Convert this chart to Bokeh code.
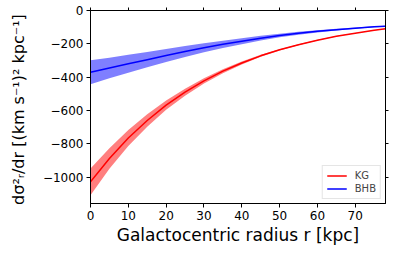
from bokeh.plotting import figure
from bokeh.models import Range1d, LinearAxis, FixedTicker, CustomJSTickFormatter, Legend, LegendItem
from bokeh.embed import file_html
from bokeh.resources import INLINE

r = [0, 5, 10, 15, 20, 25, 30, 35, 40, 45, 50, 55, 60, 65, 70, 75, 78]
kg_mean = [-1028, -888, -765, -660, -568, -490, -422, -364, -315, -272, -236, -205, -178, -155, -136, -119, -110]
kg_err = [80, 62, 48, 37, 28, 21, 16, 12, 9, 6, 4, 3, 2, 1.5, 1, 1, 1]
bhb_mean = [-370, -345, -320, -295, -270, -246, -224, -203, -184, -166, -150, -137, -125, -115, -106, -98, -94]
bhb_err = [72, 62, 54, 46, 39, 33, 27, 22, 18, 14, 11, 9, 7, 5, 4, 3, 3]
x_ticks = [0, 10, 20, 30, 40, 50, 60, 70]
y_ticks = [0, -200, -400, -600, -800, -1000]

kg_lo = [m - e for m, e in zip(kg_mean, kg_err)]
kg_hi = [m + e for m, e in zip(kg_mean, kg_err)]
bhb_lo = [m - e for m, e in zip(bhb_mean, bhb_err)]
bhb_hi = [m + e for m, e in zip(bhb_mean, bhb_err)]

FONT = "DejaVu Sans"

p = figure(width=390, height=249, output_backend="svg", toolbar_location=None,
           x_range=Range1d(0, 78), y_range=Range1d(-1158, 0),
           min_border_left=90, min_border_right=5, min_border_top=10, min_border_bottom=46)
p.xgrid.visible = False
p.ygrid.visible = False
p.outline_line_color = "black"
p.outline_line_width = 1

p.varea(x=r, y1=kg_lo, y2=kg_hi, fill_color="#ff0000", fill_alpha=0.5)
p.varea(x=r, y1=bhb_lo, y2=bhb_hi, fill_color="#0000ff", fill_alpha=0.5)
l1 = p.line(r, kg_mean, line_color="#ff0000", line_width=1.5)
l2 = p.line(r, bhb_mean, line_color="#0000ff", line_width=1.5)

fmt = CustomJSTickFormatter(code="return tick < 0 ? '\u2212' + Math.abs(tick) : String(tick);")
blank = CustomJSTickFormatter(code="return '';")

for ax in (p.xaxis[0], p.yaxis[0]):
    ax.major_label_text_font = FONT
    ax.major_label_text_font_size = "12px"
    ax.major_label_text_color = "black"
    ax.axis_label_text_font = FONT
    ax.axis_label_text_font_style = "normal"
    ax.axis_label_text_color = "black"
    ax.minor_tick_line_color = None
    ax.major_tick_in = 0
    ax.major_tick_out = 4
    ax.major_label_standoff = 3
    ax.axis_line_color = "black"

p.xaxis[0].ticker = FixedTicker(ticks=x_ticks)
p.yaxis[0].ticker = FixedTicker(ticks=y_ticks)
p.yaxis[0].formatter = fmt
p.xaxis[0].axis_label = "Galactocentric radius r [kpc]"
p.xaxis[0].axis_label_text_font_size = "17px"
p.xaxis[0].axis_label_standoff = 2
p.yaxis[0].axis_label = "dσ²ᵣ/dr  [(km s⁻¹)² kpc⁻¹]"
p.yaxis[0].axis_label_text_font_size = "16px"
p.yaxis[0].axis_label_standoff = 12

top = LinearAxis(ticker=FixedTicker(ticks=x_ticks), formatter=blank,
                 major_tick_in=0, major_tick_out=3, minor_tick_line_color=None, major_label_standoff=0)
right = LinearAxis(ticker=FixedTicker(ticks=y_ticks), formatter=blank,
                   major_tick_in=0, major_tick_out=3, minor_tick_line_color=None, major_label_standoff=0)
p.add_layout(top, "above")
p.add_layout(right, "right")

legend = Legend(items=[LegendItem(label="KG", renderers=[l1]), LegendItem(label="BHB", renderers=[l2])],
                location="bottom_right", label_text_font=FONT, label_text_font_size="10px",
                glyph_width=20, glyph_height=11, label_height=11, spacing=2, padding=4, margin=4,
                border_line_color="#cccccc", border_line_width=1, background_fill_alpha=0.8,
                label_standoff=8)
p.add_layout(legend, "center")

open("out.html", "w").write(file_html(p, INLINE))
